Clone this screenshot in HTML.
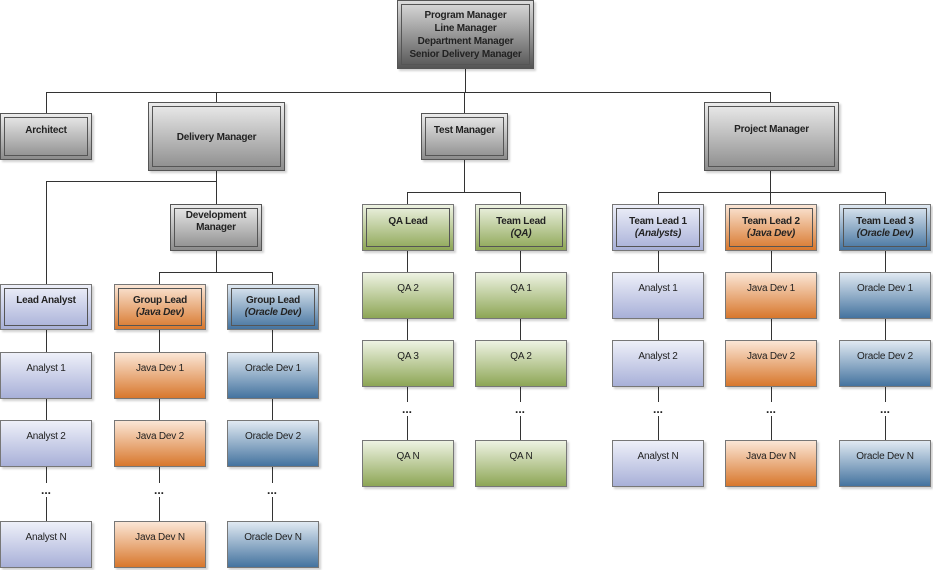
<!DOCTYPE html>
<html><head><meta charset="utf-8"><style>
body{margin:0;width:933px;height:570px;background:#fff;position:relative;overflow:hidden;font-family:"Liberation Sans",sans-serif;font-size:10px;color:#222}
.b{position:absolute;box-sizing:border-box;border:1px solid #555;text-align:center;box-shadow:2px 2px 2px rgba(0,0,0,.18)}
.d::after{content:"";position:absolute;left:3px;top:3px;right:3px;bottom:3px;border:1px solid #555}
.t{position:absolute;left:0;right:0;font-weight:bold;line-height:12px;letter-spacing:-0.2px}
.m .t{font-weight:normal}
i{font-style:italic}
.g{background:linear-gradient(#ececec,#8c8c8c)}
.gd{background:linear-gradient(#dcdcdc,#555)}
.l{background:linear-gradient(#eef0f9,#a8b0d8);border-color:#777}
.o{background:linear-gradient(#fbe6d6,#d8772c);border-color:#777}
.u{background:linear-gradient(#e0e9f2,#44739f);border-color:#777}
.v{background:linear-gradient(#eef3e3,#8da655);border-color:#777}
.h,.w{position:absolute;background:#333}
.h{height:1px}.w{width:1px}
.dots{position:absolute;font-weight:bold;font-size:12px;width:30px;text-align:center}
</style></head><body>
<div class="w" style="left:465px;top:68px;height:24px"></div>
<div class="h" style="left:46px;top:92px;width:725px"></div>
<div class="w" style="left:46px;top:92px;height:21px"></div>
<div class="w" style="left:216px;top:92px;height:10px"></div>
<div class="w" style="left:464px;top:92px;height:21px"></div>
<div class="w" style="left:770px;top:92px;height:10px"></div>
<div class="w" style="left:216px;top:170px;height:34px"></div>
<div class="h" style="left:46px;top:181px;width:171px"></div>
<div class="w" style="left:46px;top:181px;height:103px"></div>
<div class="w" style="left:216px;top:250px;height:22px"></div>
<div class="h" style="left:159px;top:272px;width:114px"></div>
<div class="w" style="left:159px;top:272px;height:12px"></div>
<div class="w" style="left:272px;top:272px;height:12px"></div>
<div class="w" style="left:46px;top:329px;height:238px"></div>
<div class="w" style="left:159px;top:329px;height:238px"></div>
<div class="w" style="left:272px;top:329px;height:238px"></div>
<div class="w" style="left:464px;top:159px;height:33px"></div>
<div class="h" style="left:407px;top:192px;width:114px"></div>
<div class="w" style="left:407px;top:192px;height:12px"></div>
<div class="w" style="left:520px;top:192px;height:12px"></div>
<div class="w" style="left:407px;top:250px;height:236px"></div>
<div class="w" style="left:520px;top:250px;height:236px"></div>
<div class="w" style="left:770px;top:170px;height:22px"></div>
<div class="h" style="left:658px;top:192px;width:228px"></div>
<div class="w" style="left:658px;top:192px;height:12px"></div>
<div class="w" style="left:770px;top:192px;height:12px"></div>
<div class="w" style="left:885px;top:192px;height:12px"></div>
<div class="w" style="left:658px;top:250px;height:236px"></div>
<div class="w" style="left:771px;top:250px;height:236px"></div>
<div class="w" style="left:885px;top:250px;height:236px"></div>

<div class="b d gd" style="left:397px;top:0;width:137px;height:69px"><div class="t" style="top:8px;line-height:13px">Program Manager<br>Line Manager<br>Department Manager<br>Senior Delivery Manager</div></div>
<div class="b d g" style="left:0;top:113px;width:92px;height:47px"><div class="t" style="top:11px">Architect</div></div>
<div class="b d g" style="left:148px;top:102px;width:137px;height:69px"><div class="t" style="top:29px">Delivery Manager</div></div>
<div class="b d g" style="left:421px;top:113px;width:87px;height:47px"><div class="t" style="top:11px">Test Manager</div></div>
<div class="b d g" style="left:704px;top:102px;width:135px;height:69px"><div class="t" style="top:21px">Project Manager</div></div>
<div class="b d g" style="left:170px;top:204px;width:92px;height:47px"><div class="t" style="top:5px">Development<br>Manager</div></div>

<div class="b d l" style="left:0;top:284px;width:92px;height:46px"><div class="t" style="top:10px">Lead Analyst</div></div>
<div class="b d o" style="left:114px;top:284px;width:92px;height:46px"><div class="t" style="top:10px">Group Lead<br><i>(Java Dev)</i></div></div>
<div class="b d u" style="left:227px;top:284px;width:92px;height:46px"><div class="t" style="top:10px">Group Lead<br><i>(Oracle Dev)</i></div></div>
<div class="b d v" style="left:362px;top:204px;width:92px;height:47px"><div class="t" style="top:11px">QA Lead</div></div>
<div class="b d v" style="left:475px;top:204px;width:92px;height:47px"><div class="t" style="top:11px">Team Lead<br><i>(QA)</i></div></div>
<div class="b d l" style="left:612px;top:204px;width:92px;height:47px"><div class="t" style="top:11px">Team Lead 1<br><i>(Analysts)</i></div></div>
<div class="b d o" style="left:725px;top:204px;width:92px;height:47px"><div class="t" style="top:11px">Team Lead 2<br><i>(Java Dev)</i></div></div>
<div class="b d u" style="left:839px;top:204px;width:92px;height:47px"><div class="t" style="top:11px">Team Lead 3<br><i>(Oracle Dev)</i></div></div>

<div class="b m l" style="left:0;top:352px;width:92px;height:47px"><div class="t" style="top:10px">Analyst 1</div></div>
<div class="b m l" style="left:0;top:420px;width:92px;height:47px"><div class="t" style="top:10px">Analyst 2</div></div>
<div class="b m l" style="left:0;top:521px;width:92px;height:47px"><div class="t" style="top:10px">Analyst N</div></div>
<div class="b m o" style="left:114px;top:352px;width:92px;height:47px"><div class="t" style="top:10px">Java Dev 1</div></div>
<div class="b m o" style="left:114px;top:420px;width:92px;height:47px"><div class="t" style="top:10px">Java Dev 2</div></div>
<div class="b m o" style="left:114px;top:521px;width:92px;height:47px"><div class="t" style="top:10px">Java Dev N</div></div>
<div class="b m u" style="left:227px;top:352px;width:92px;height:47px"><div class="t" style="top:10px">Oracle Dev 1</div></div>
<div class="b m u" style="left:227px;top:420px;width:92px;height:47px"><div class="t" style="top:10px">Oracle Dev 2</div></div>
<div class="b m u" style="left:227px;top:521px;width:92px;height:47px"><div class="t" style="top:10px">Oracle Dev N</div></div>

<div class="b m v" style="left:362px;top:272px;width:92px;height:47px"><div class="t" style="top:10px">QA 2</div></div>
<div class="b m v" style="left:362px;top:340px;width:92px;height:47px"><div class="t" style="top:10px">QA 3</div></div>
<div class="b m v" style="left:362px;top:440px;width:92px;height:47px"><div class="t" style="top:10px">QA N</div></div>
<div class="b m v" style="left:475px;top:272px;width:92px;height:47px"><div class="t" style="top:10px">QA 1</div></div>
<div class="b m v" style="left:475px;top:340px;width:92px;height:47px"><div class="t" style="top:10px">QA 2</div></div>
<div class="b m v" style="left:475px;top:440px;width:92px;height:47px"><div class="t" style="top:10px">QA N</div></div>
<div class="b m l" style="left:612px;top:272px;width:92px;height:47px"><div class="t" style="top:10px">Analyst 1</div></div>
<div class="b m l" style="left:612px;top:340px;width:92px;height:47px"><div class="t" style="top:10px">Analyst 2</div></div>
<div class="b m l" style="left:612px;top:440px;width:92px;height:47px"><div class="t" style="top:10px">Analyst N</div></div>
<div class="b m o" style="left:725px;top:272px;width:92px;height:47px"><div class="t" style="top:10px">Java Dev 1</div></div>
<div class="b m o" style="left:725px;top:340px;width:92px;height:47px"><div class="t" style="top:10px">Java Dev 2</div></div>
<div class="b m o" style="left:725px;top:440px;width:92px;height:47px"><div class="t" style="top:10px">Java Dev N</div></div>
<div class="b m u" style="left:839px;top:272px;width:92px;height:47px"><div class="t" style="top:10px">Oracle Dev 1</div></div>
<div class="b m u" style="left:839px;top:340px;width:92px;height:47px"><div class="t" style="top:10px">Oracle Dev 2</div></div>
<div class="b m u" style="left:839px;top:440px;width:92px;height:47px"><div class="t" style="top:10px">Oracle Dev N</div></div>

<div class="dots" style="left:31px;top:483px;background:#fff">...</div>
<div class="dots" style="left:144px;top:483px;background:#fff">...</div>
<div class="dots" style="left:257px;top:483px;background:#fff">...</div>
<div class="dots" style="left:392px;top:402px;background:#fff">...</div>
<div class="dots" style="left:505px;top:402px;background:#fff">...</div>
<div class="dots" style="left:643px;top:402px;background:#fff">...</div>
<div class="dots" style="left:756px;top:402px;background:#fff">...</div>
<div class="dots" style="left:870px;top:402px;background:#fff">...</div>
</body></html>
